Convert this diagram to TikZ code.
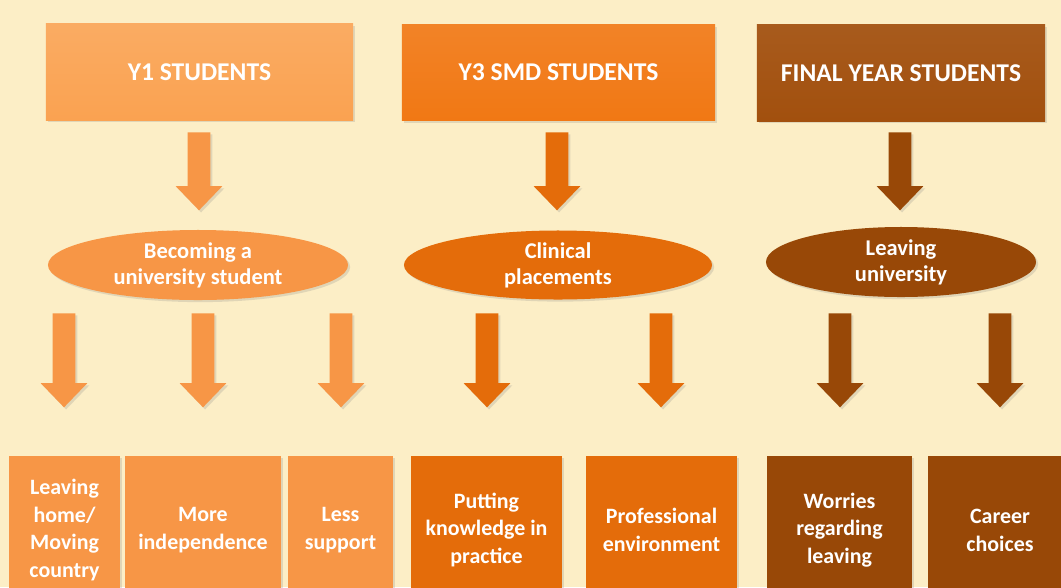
\documentclass[tikz,border=0pt]{standalone}
\usepackage{fontspec}
\setmainfont{Carlito}
\usetikzlibrary{shapes.geometric,shapes.arrows,shadows}
\definecolor{bgcream}{HTML}{FCEEC6}
\definecolor{orA}{HTML}{F79646}
\definecolor{orB}{HTML}{E46C0A}
\definecolor{orC}{HTML}{984807}
\definecolor{hdA}{HTML}{FAA251}
\definecolor{hdB}{HTML}{F17814}
\definecolor{hdC}{HTML}{A2500E}
\tikzset{
  softshadow/.style={drop shadow={shadow xshift=1.5pt,shadow yshift=-1.5pt,opacity=.22}},
  header/.style={rectangle, minimum height=2.4cm, text=white, softshadow,
    font=\bfseries\fontsize{18.2}{22}\selectfont},
  topic/.style={ellipse, minimum height=1.75cm, inner sep=0pt, softshadow},
  toptext/.style={text=white, align=center, inner sep=0pt,
    font=\bfseries\fontsize{16}{18.6}\selectfont},
  item/.style={rectangle, minimum height=3.7cm, text=white, align=center, softshadow,
    font=\bfseries\fontsize{15.6}{19.8}\selectfont},
  blockarr/.style={single arrow, rotate=-90, anchor=tail,
    inner xsep=0pt, inner ysep=0.275cm,
    minimum width=1.15cm, single arrow head extend=0.3cm,
    single arrow tip angle=88, softshadow},
}
\begin{document}
\begin{tikzpicture}[x=0.025cm,y=-0.025cm]
    \useasboundingbox (0,0) rectangle (1061,587);
    \clip (0,0) rectangle (1061,587);
    \fill[bgcream] (0,0) rectangle (1061,587);
    % headers
    \node[header, minimum width=7.675cm, top color=hdA!90!white, bottom color=hdA] (y1) at (199.5,72) {Y1 STUDENTS};
    \node[header, minimum width=7.825cm, top color=hdB!92!white, bottom color=hdB] (y3) at (558.5,72.5) {Y3 SMD STUDENTS};
    \node[header, minimum width=7.2cm, top color=hdC!94!white, bottom color=hdC] (fy) at (901,73) {FINAL YEAR STUDENTS};
    % arrows under the headers
    \node[blockarr, minimum height=1.95cm, fill=orA] (a1) at (199,132) {};
    \node[blockarr, minimum height=1.95cm, fill=orB] (a3) at (557,132) {};
    \node[blockarr, minimum height=1.95cm, fill=orC] (af) at (900,132) {};
    % topics
    \node[topic, minimum width=7.5cm, fill=orA] (y1t) at (198,265) {};
    \node[toptext] at (y1t) {Becoming a\\university student};
    \node[topic, minimum width=7.7cm, minimum height=1.725cm, fill=orB] (y3t) at (558,265) {};
    \node[toptext] at (y3t) {Clinical\\placements};
    \node[topic, minimum width=6.75cm, fill=orC] (fyt) at (901,262) {};
    \node[toptext] at (fyt) {Leaving\\university};
    % arrows under the topics
    \foreach \x/\c in {64/orA,203/orA,341/orA,487/orB,661/orB,840/orC,1000/orC}
        \node[blockarr, minimum height=2.35cm, fill=\c] (d\x) at (\x,313) {};
    % Y1 items
    \node[item, minimum width=2.775cm, fill=orA] (home) at (64.5,530) {Leaving\\home/\\Moving\\country};
    \node[item, minimum width=3.9cm, fill=orA] (indep) at (203,530) {More\\independence};
    \node[item, minimum width=2.625cm, fill=orA] (supp) at (340.5,530) {Less\\support};
    % Y3 items
    \node[item, minimum width=3.775cm, fill=orB] (pract) at (486.5,530) {Putting\\knowledge in\\practice};
    \node[item, minimum width=3.775cm, fill=orB] (prof) at (661.5,530) {Professional\\environment};
    % final year items
    \node[item, minimum width=3.625cm, fill=orC] (worry) at (839.5,530) {Worries\\regarding\\leaving};
    \node[item, minimum width=3.6cm, fill=orC] (career) at (1000,530) {Career\\choices};
\end{tikzpicture}
\end{document}
